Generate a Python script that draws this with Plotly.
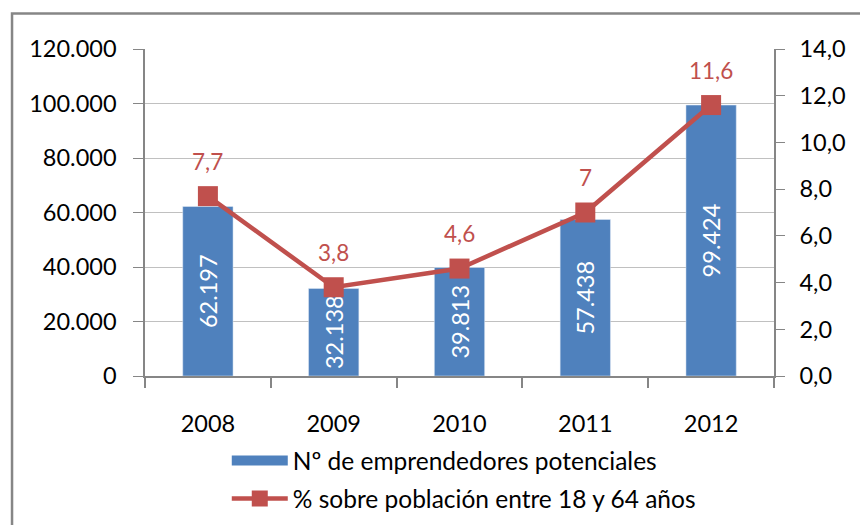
import plotly.graph_objects as go

years = ["2008", "2009", "2010", "2011", "2012"]
emprendedores = [62197, 32138, 39813, 57438, 99424]
porcentaje = [7.7, 3.8, 4.6, 7, 11.6]
bar_name = "Nº de emprendedores potenciales"
line_name = "% sobre población entre 18 y 64 años"

BLUE = "#4F81BD"
RED = "#C0504D"
GRAY = "#868686"
FONT = "Lato"

fig = go.Figure()
fig.add_trace(go.Bar(
    x=years, y=emprendedores, name=bar_name, marker_color=BLUE,
    texttemplate="%{y:,d}", textposition="inside", insidetextanchor="middle",
    textangle=-90, textfont=dict(color="white", size=23.5, family=FONT),
    showlegend=False,
))
# legend entry for the bars (wide rectangle swatch like the original)
fig.add_trace(go.Scatter(
    x=[None], y=[None], name=bar_name, mode="lines",
    line=dict(color=BLUE, width=16), legendgroup="a",
))
fig.add_trace(go.Scatter(
    x=years, y=porcentaje, name=line_name, yaxis="y2", mode="lines+markers",
    line=dict(color=RED, width=4.5), marker=dict(symbol="square", size=20, color=RED),
    legendgroup="b",
))
for i, v in enumerate(porcentaje):
    fig.add_annotation(x=i, xref="x", y=v, yref="y2", text=str(v).replace(".", ","),
                       showarrow=False, yshift=35,
                       font=dict(color=RED, size=22.5, family=FONT))

fig.add_shape(type="rect", xref="paper", yref="paper", x0=-0.2114, x1=1.3,
              y0=-0.6, y1=1.1088, line=dict(color=GRAY, width=2.5), layer="below")

fig.update_layout(
    width=868, height=525, separators=",.",
    margin=dict(l=137, r=102, t=41, b=153),
    paper_bgcolor="white", plot_bgcolor="white",
    font=dict(family=FONT, size=23.5, color="black"),
    bargap=0.6, showlegend=True,
    legend=dict(orientation="v", x=0.13, xanchor="left", y=-0.19, yanchor="top",
                font=dict(size=24.5, family=FONT), tracegroupgap=3, itemwidth=56),
    xaxis=dict(type="category", range=[-0.5, 4.5], showline=True, linecolor=GRAY,
               linewidth=2, ticks="outside", tickson="boundaries", ticklen=10,
               tickcolor=GRAY, tickwidth=1.5, ticklabelstandoff=26, showgrid=False),
    yaxis=dict(range=[0, 120000], dtick=20000, tickformat=",d", showline=True,
               linecolor=GRAY, linewidth=1.5, ticks="outside", ticklen=10,
               tickcolor=GRAY, showgrid=True, gridcolor="#C0C0C0", gridwidth=1,
               zeroline=False, ticklabelstandoff=12),
    yaxis2=dict(range=[0, 14], dtick=2, tickformat=".1f", overlaying="y", side="right",
                showline=True, linecolor=GRAY, linewidth=1.5, ticks="outside",
                ticklen=9, tickcolor=GRAY, showgrid=False, zeroline=False,
                ticklabelstandoff=10),
)
fig.write_html("out.html")
